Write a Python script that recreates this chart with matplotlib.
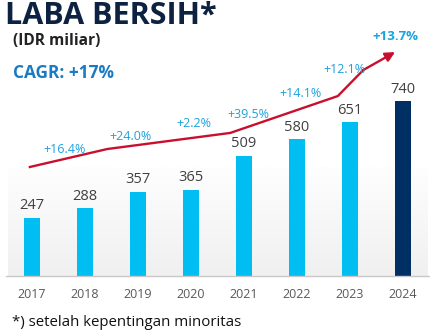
import numpy as np
import matplotlib.pyplot as plt
from matplotlib.colors import LinearSegmentedColormap

# data
years = ["2017", "2018", "2019", "2020", "2021", "2022", "2023", "2024"]
laba = [247, 288, 357, 365, 509, 580, 651, 740]
growth = ["+16.4%", "+24.0%", "+2.2%", "+39.5%", "+14.1%", "+12.1%", "+13.7%"]

# decorative trend arrow (data units)
trend_x = [-0.04, 1.42, 3.74, 5.77, 6.25, 6.85]
trend_y = [461, 537, 605, 761, 871, 947]
growth_x = [0.62, 1.85, 3.06, 4.09, 5.06, 5.89, 6.85]
growth_y = [537, 592, 647, 685, 770, 875, 1014]

CYAN = "#00bdf2"
NAVY = "#002f63"
RED = "#c8102e"
BLUE_TXT = "#1ba3e0"

plt.rcParams['font.family'] = ['Open Sans', 'DejaVu Sans']

fig = plt.figure(figsize=(4.31, 3.34), dpi=100)
ax = fig.add_axes([0, 0, 1, 1])
ax.set_xlim(-0.604, 7.528)
ax.set_ylim(-245.3, 1167.2)
ax.axis("off")

# soft gray background behind the bars (darker at the bottom)
grad = np.linspace(0, 1, 100).reshape(-1, 1)
cmap = LinearSegmentedColormap.from_list("bg", ["#f0f0f0", "#fefefe"])
ax.imshow(grad, extent=(-0.45, 7.47, 0, 460), origin="lower", cmap=cmap,
          aspect="auto", zorder=0)

x = np.arange(len(years))
colors = [CYAN] * (len(years) - 1) + [NAVY]
ax.bar(x, laba, width=0.32, color=colors, zorder=2)
ax.plot([-0.49, 7.5], [0, 0], color="#c8c8c8", lw=1, zorder=3)

for xi, v in zip(x, laba):
    ax.text(xi, v + 18, str(v), ha="center", va="bottom", fontsize=10.5,
            color="#404040", zorder=4)
for xi, y in zip(x, years):
    ax.text(xi, -80, y, ha="center", va="center", fontsize=9, color="#595959")

# trend arrow
ax.plot(trend_x[:-1], trend_y[:-1], color=RED, lw=1.7, zorder=3)
ax.annotate("", xy=(trend_x[-1], trend_y[-1]), xytext=(trend_x[-2], trend_y[-2]),
            arrowprops=dict(arrowstyle="-|>", color=RED, lw=1.7,
                            mutation_scale=14, shrinkA=0, shrinkB=0), zorder=3)

for i, (gx, gy, g) in enumerate(zip(growth_x, growth_y, growth)):
    last = i == len(growth) - 1
    ax.text(gx, gy, g, ha="center", va="center", fontsize=9.5 if last else 9,
            color=BLUE_TXT, fontweight="bold" if last else "normal")

fig.text(5 / 431, 1 - 16 / 334, "LABA BERSIH*", fontsize=22, fontweight="bold",
         color="#0d2240", ha="left", va="center")
fig.text(13 / 431, 1 - 41 / 334, "(IDR miliar)", fontsize=11.2, fontweight="bold",
         color="#222222", ha="left", va="center")
fig.text(13 / 431, 1 - 73 / 334, "CAGR: +17%", fontsize=12.4, fontweight="bold",
         color="#1a7bc4", ha="left", va="center")
fig.text(12 / 431, 1 - 322 / 334, "*) setelah kepentingan minoritas", fontsize=10.8,
         color="#111111", ha="left", va="center")

fig.savefig("out.png", dpi=100)
